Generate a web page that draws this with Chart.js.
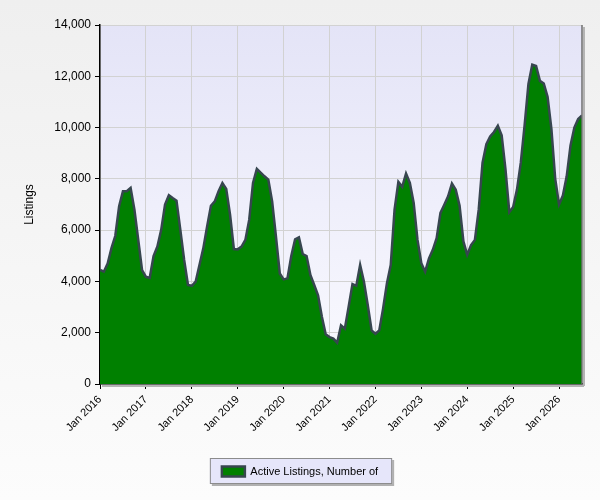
<!DOCTYPE html>
<html>
<head>
<meta charset="utf-8">
<script src="https://cdn.jsdelivr.net/npm/chart.js@4"></script>
<style>
  html, body { margin: 0; padding: 0; background: #f4f4f4; }
  #wrap { width: 600px; height: 500px; }
</style>
</head>
<body>
<div id="wrap"><canvas id="listingsChart" width="600" height="500"></canvas></div>
<script>
// Monthly active listings, Jan 2016 .. Jul 2026
const listings2016 = [4450, 4380, 4700, 5300, 5780, 6930, 7520, 7520, 7650, 6800, 5620, 4440];
const listings2017 = [4180, 4140, 4990, 5360, 6010, 7000, 7360, 7250, 7150, 6010, 4840, 3860];
const listings2018 = [3830, 3990, 4640, 5290, 6140, 6950, 7120, 7520, 7840, 7610, 6600, 5260];
const listings2019 = [5250, 5360, 5620, 6400, 7840, 8390, 8240, 8100, 7970, 7120, 5750, 4310];
const listings2020 = [4080, 4120, 4990, 5640, 5720, 5070, 4990, 4250, 3860, 3460, 2620, 1940];
const listings2021 = [1830, 1770, 1610, 2290, 2160, 3010, 3900, 3830, 4640, 3990, 3070, 2090];
const listings2022 = [1960, 2090, 2940, 3920, 4640, 6800, 7880, 7690, 8210, 7840, 7060, 5620];
const listings2023 = [4710, 4380, 4900, 5230, 5690, 6670, 6990, 7320, 7820, 7580, 6950, 5560];
const listings2024 = [5040, 5420, 5620, 6800, 8630, 9350, 9650, 9830, 10070, 9700, 8370, 6700];
const listings2025 = [6900, 7580, 8630, 10100, 11700, 12450, 12400, 11820, 11720, 11200, 9950, 8000];
const listings2026 = [7000, 7350, 8100, 9300, 10000, 10330, 10470];

const yearTicks = ['Jan 2016', 'Jan 2017', 'Jan 2018', 'Jan 2019', 'Jan 2020', 'Jan 2021',
  'Jan 2022', 'Jan 2023', 'Jan 2024', 'Jan 2025', 'Jan 2026'];

const listings = [].concat(listings2016, listings2017, listings2018, listings2019, listings2020,
  listings2021, listings2022, listings2023, listings2024, listings2025, listings2026);

Chart.defaults.font.family = '"Liberation Sans", Arial, sans-serif';
Chart.defaults.font.size = 12;
Chart.defaults.color = '#000';

// backgrounds, legend frame and right-hand plot edge
const chartDecor = {
  id: 'chartDecor',
  beforeDraw(chart) {
    const c = chart.ctx;
    const a = chart.chartArea;
    let g = c.createLinearGradient(0, 0, 0, chart.height);
    g.addColorStop(0, '#efefef');
    g.addColorStop(1, '#fcfcfc');
    c.fillStyle = g;
    c.fillRect(0, 0, chart.width, chart.height);

    g = c.createLinearGradient(0, a.top, 0, a.bottom);
    g.addColorStop(0, '#e4e4f7');
    g.addColorStop(1, '#fafaff');
    c.fillStyle = g;
    c.fillRect(a.left, a.top, a.right - a.left, a.bottom - a.top);

    const hb = chart.legend.legendHitBoxes[0];
    if (hb) {
      const x = hb.left - 12, y = hb.top - 8, w = hb.width + 26, h = hb.height + 15;
      c.fillStyle = '#b0b0b0';
      c.fillRect(x + 2, y + 2, w, h);
      c.fillStyle = '#e6e6fa';
      c.fillRect(x, y, w, h);
      c.strokeStyle = '#8c8c8c';
      c.lineWidth = 1;
      c.strokeRect(x + 0.5, y + 0.5, w - 1, h - 1);
    }
  },
  afterDraw(chart) {
    const c = chart.ctx;
    const a = chart.chartArea;
    c.save();
    c.fillStyle = '#b4b4b4';
    c.fillRect(a.right + 1, a.top + 2, 2, a.bottom - a.top);
    c.fillRect(a.left + 2, a.bottom + 1, a.right - a.left, 2);
    c.strokeStyle = '#6e6e6e';
    c.lineWidth = 1.5;
    c.beginPath();
    c.moveTo(a.right, a.top);
    c.lineTo(a.right, a.bottom);
    c.stroke();
    c.restore();
  }
};

const ctx = document.getElementById('listingsChart').getContext('2d');
const listingsChart = new Chart(ctx, {
  type: 'line',
  data: {
    datasets: [{
      label: 'Active Listings, Number of',
      data: listings.map((v, i) => ({ x: i, y: v })),
      borderColor: '#37464f',
      borderWidth: 2.5,
      backgroundColor: '#008000',
      fill: 'origin',
      pointRadius: 0,
      tension: 0
    }]
  },
  options: {
    responsive: false,
    animation: false,
    locale: 'en-US',
    layout: { padding: { left: 18, right: 18, top: 25, bottom: 13 } },
    plugins: {
      legend: {
        position: 'bottom',
        labels: { boxWidth: 23, boxHeight: 10, padding: 10, color: '#000', font: { size: 11 } }
      },
      tooltip: { enabled: false }
    },
    scales: {
      x: {
        type: 'linear',
        min: 0,
        max: listings.length - 1,
        afterFit: (scale) => { scale.height = 72; },
        afterBuildTicks: (scale) => {
          scale.ticks = yearTicks.map((t, i) => ({ value: i * 12 }));
        },
        ticks: {
          autoSkip: false,
          minRotation: 45,
          maxRotation: 45,
          padding: 4,
          font: { size: 11 },
          callback: (v) => yearTicks[v / 12]
        },
        grid: { color: '#d2d2d2', tickColor: '#000', tickLength: 5 },
        border: { color: '#000', width: 1.5 }
      },
      y: {
        min: 0,
        max: 14000,
        afterFit: (scale) => { scale.width = 82; },
        ticks: { stepSize: 2000, padding: 4, font: { size: 12 } },
        grid: { color: '#d2d2d2', tickColor: '#000', tickLength: 5 },
        border: { color: '#000', width: 1.5 },
        title: { display: true, text: 'Listings', font: { size: 12 }, color: '#000' }
      }
    }
  },
  plugins: [chartDecor]
});
</script>
</body>
</html>
